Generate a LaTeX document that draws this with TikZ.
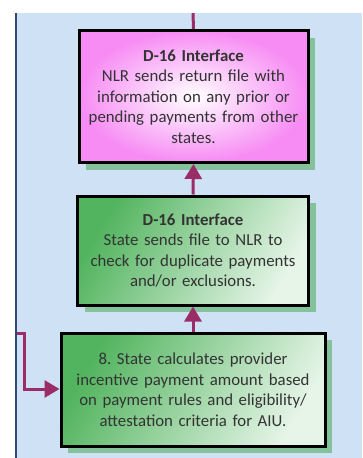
\documentclass[tikz,border=0pt]{standalone}
\usepackage{fontspec}
\setmainfont{Carlito}
\frenchspacing
\usetikzlibrary{shadows,arrows.meta}
\definecolor{panel}{HTML}{CFE1F4}
\definecolor{panelline}{HTML}{2E4A75}
\definecolor{conn}{HTML}{9A2D68}
\definecolor{pinkedge}{HTML}{F78CF4}
\definecolor{grndark}{HTML}{52B45E}
\definecolor{grnlight}{HTML}{E6F5E8}
\definecolor{shadowgrn}{HTML}{7CBF93}
\definecolor{txt}{HTML}{333333}
\tikzset{
  box/.style={draw=black, line width=3pt, rectangle, align=center, text=txt,
    font=\fontsize{16.8}{20.5}\selectfont, inner sep=2pt,
    drop shadow={shadow xshift=7pt, shadow yshift=-7pt, fill=shadowgrn, opacity=0.9}},
  pinkbox/.style={box, inner color=white, outer color=pinkedge},
  greenbox/.style={box, shading=axis, left color=grndark, right color=grnlight, shading angle=60},
  conn/.style={draw=conn, line width=3pt},
  connarrow/.style={conn, -{Triangle[length=15pt,width=17pt]}}
}
\begin{document}
\begin{tikzpicture}[x=1pt,y=-1pt]
\useasboundingbox (0,0) rectangle (362,458);
\fill[white] (0,0) rectangle (362,458);
\fill[panel] (16,13) rectangle (362,458);
\draw[panelline, line width=2pt] (16,13) -- (16,458);
\coordinate (top) at (193,13);
\coordinate (leftin) at (17,333);
\coordinate (bend1) at (24,333);
\coordinate (bend2) at (24,389);
\node[pinkbox, minimum width=229pt, minimum height=132pt, text width=225pt] (p) at (193.5,96.5)
  {\textbf{D-16 Interface}\\NLR sends return file with\\information on any prior or\\pending payments from other\\states.\\[2pt]};
\node[greenbox, minimum width=231pt, minimum height=109pt, text width=225pt] (g1) at (193,250.5)
  {\textbf{D-16 Interface}\\State sends file to NLR to\\check for duplicate payments\\and/or exclusions.};
\node[greenbox, minimum width=264pt, minimum height=113pt, text width=258pt] (g2) at (193,389.5)
  {8. State calculates provider\\incentive payment amount based\\on payment rules and eligibility/\\attestation criteria for AIU.};
\draw[conn] (top) -- (p.north);
\draw[connarrow] (g1.north) -- (p.south);
\draw[connarrow] (g2.north) -- (g1.south);
\draw[connarrow] (leftin) -- (bend1) -- (bend2) -- (g2.west |- bend2);
\end{tikzpicture}
\end{document}
